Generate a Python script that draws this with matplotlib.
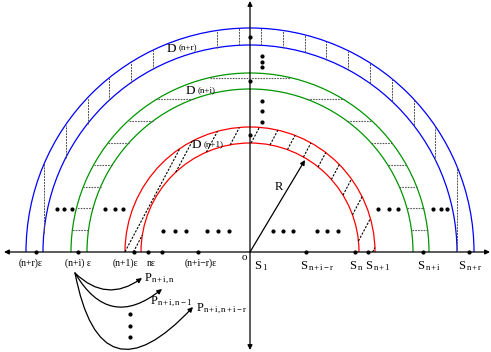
import numpy as np
import matplotlib
matplotlib.use("Agg")
import matplotlib.pyplot as plt
from matplotlib.patches import Arc, FancyArrowPatch

plt.rcParams['font.family'] = ['Liberation Serif', 'DejaVu Serif']
plt.rcParams['mathtext.fontset'] = 'custom'
plt.rcParams['mathtext.rm'] = 'Liberation Serif'
plt.rcParams['mathtext.it'] = 'Liberation Serif:italic'

# annular bands D(n+1), D(n+i), D(n+r)
band_names = ["(n+1)", "(n+i)", "(n+r)"]
band_inner = [109, 163, 207]
band_outer = [125, 179, 224]
band_colors = ["#ff0000", "#009600", "#0000ff"]
band_label_xy = [(-58, 107), (-64, 161), (-83, 203)]

# points on the negative axis: k*eps
eps_labels = ["(n+r)ε", "(n+i) ε", "(n+1)ε", "nε", "(n+i−r)ε"]
eps_label_x = [-219, -172, -125, -99, -49]
eps_dots = [-214, -172, -116, -102, -88, -52]

# points on the positive axis: S_k
s_labels = ["1", "n+i−r", "n", "n+1", "n+i", "n+r"]
s_label_x = [4, 50, 99, 115, 167, 208]
s_dots = [56, 105, 118, 173, 219]

# hatching of each band
blue_hatch_x = [-206.1, -184.3, -162.5, -140.7, -118.9, -97.1, -32.7, -10.9,
                10.9, 32.7, 54.5, 76.3, 98.1, 119.9, 141.7, 163.5, 185.3, 207.1]
green_hatch_h = [21.8, 43.6, 65.4, 87.2, 109.0, 130.8, 152.6, 174.4]
red_hatch_c = [-110.5, -103.0, -85.4, -67.8, -50.2, -32.6, -15.0, 2.6,
               20.2, 37.8, 55.4, 73.0, 90.6, 108.2]
red_hatch_angle = 62.0

# "..." groups
dots_row_y = [43, 21]
dots_row_x = [[-193, -186, -178, -145, -135, -127, 128, 139, 148, 183, 191, 197],
              [-87, -75, -64, -43, -32, -21, 23, 33, 43, 67, 77, 88]]
dots_col = [(12, 196), (12, 190), (12, 185), (12, 151), (12, 141), (12, 130),
            (0, 215), (0, 171), (0, 117),
            (-120, -62), (-120, -74), (-120, -85)]

# projections P_{n+i,j}
p_start = (-175, -21)
p_ends = [(-108, -26), (-88, -37), (-57, -55)]
p_rads = [0.42, 0.58, 0.98]
p_labels = [r"$\mathrm{P}_{\mathrm{n+i,n}}$", r"$\mathrm{P}_{\mathrm{n+i,n-1}}$",
            r"$\mathrm{P}_{\mathrm{n+i,n+i-r}}$"]
p_label_xy = [(-106, -27), (-100, -50), (-54, -57)]

fig = plt.figure(figsize=(4.91, 3.52), dpi=100)
ax = fig.add_axes([0, 0, 1, 1])
ax.set_xlim(-250, 241)
ax.set_ylim(-100, 252)
ax.set_aspect('equal')
ax.axis('off')

# semicircular bands
for rin, rout, col in zip(band_inner, band_outer, band_colors):
    for r in (rin, rout):
        ax.add_patch(Arc((0, 0), 2 * r, 2 * r, theta1=0, theta2=180,
                         color=col, lw=0.9))

# blue band: vertical hatch
rin, rout = band_inner[2], band_outer[2]
for x in blue_hatch_x:
    y0 = np.sqrt(max(rin ** 2 - x ** 2, 0))
    y1 = np.sqrt(rout ** 2 - x ** 2)
    ax.plot([x, x], [y0, y1], color='0.3', lw=0.7, ls=(0, (2, 1)))

# green band: horizontal hatch
rin, rout = band_inner[1], band_outer[1]
for h in green_hatch_h:
    xo = np.sqrt(rout ** 2 - h ** 2)
    if h < rin:
        xi = np.sqrt(rin ** 2 - h ** 2)
        for s in (-1, 1):
            ax.plot([s * xi, s * xo], [h, h], color='0.35', lw=0.8, ls=(0, (1.5, 1)))
    else:
        ax.plot([-xo, xo], [h, h], color='0.35', lw=0.8, ls=(0, (1.5, 1)))

# red band: slanted hatch, clipped to the band above the axis
rin, rout = band_inner[0], band_outer[0]
th = np.radians(red_hatch_angle)
nvec = np.array([np.sin(th), -np.cos(th)])
dvec = np.array([np.cos(th), np.sin(th)])
for c in red_hatch_c:
    if abs(c) >= rout:
        continue
    to = np.sqrt(rout ** 2 - c ** 2)
    if abs(c) < rin:
        ti = np.sqrt(rin ** 2 - c ** 2)
        spans = [(-to, -ti), (ti, to)]
    else:
        spans = [(-to, to)]
    tmin = c * np.cos(th) / np.sin(th)
    for a, b in spans:
        a = max(a, tmin)
        if b <= a:
            continue
        p0 = c * nvec + a * dvec
        p1 = c * nvec + b * dvec
        ax.plot([p0[0], p1[0]], [p0[1], p1[1]], color='k', lw=0.8, ls=(0, (2, 1.3)))

# axes with arrows
ax.add_patch(FancyArrowPatch((-246, 0), (240, 0), arrowstyle='<|-|>',
                             mutation_scale=7, color='k', lw=0.9,
                             shrinkA=0, shrinkB=0))
ax.add_patch(FancyArrowPatch((0, -98), (0, 251), arrowstyle='<|-|>',
                             mutation_scale=7, color='k', lw=0.9,
                             shrinkA=0, shrinkB=0))

# radius arrow
ax.add_patch(FancyArrowPatch((0, 0), (55, 92), arrowstyle='-|>',
                             mutation_scale=7, color='k', lw=0.9,
                             shrinkA=0, shrinkB=0))
ax.text(29, 65, "R", fontsize=9, ha='center', va='center')

# axis points and labels
ax.plot(eps_dots, [0] * len(eps_dots), 'ko', ms=2.0)
ax.plot(s_dots, [0] * len(s_dots), 'ko', ms=2.0)
for lab, x in zip(eps_labels, eps_label_x):
    ax.text(x, -11, lab, fontsize=7, ha='center', va='center')
for lab, x in zip(s_labels, s_label_x):
    ax.text(x, -17, r"$\mathrm{S}_{\,\mathrm{" + lab.replace("−", "-") + "}}$",
            fontsize=9, ha='left', va='baseline')
ax.text(-6, -6, "o", fontsize=8, ha='center', va='center')

# band labels
for name, (x, y) in zip(band_names, band_label_xy):
    ax.text(x, y, "D", fontsize=9.5, ha='left', va='center')
    ax.text(x + 12, y + 1, name, fontsize=6.5, ha='left', va='center')

# dot groups
for y, xs in zip(dots_row_y, dots_row_x):
    ax.plot(xs, [y] * len(xs), 'ko', ms=2.0)
ax.plot([p[0] for p in dots_col], [p[1] for p in dots_col], 'ko', ms=2.0)

# curved arrows to the projections
for end, rad, lab, (lx, ly) in zip(p_ends, p_rads, p_labels, p_label_xy):
    ax.add_patch(FancyArrowPatch(p_start, end, connectionstyle=f"arc3,rad={rad}",
                                 arrowstyle='-|>', mutation_scale=7, color='k',
                                 lw=0.9, shrinkA=0, shrinkB=0))
    ax.text(lx, ly, lab, fontsize=9, ha='left', va='center')

fig.savefig('out.png', dpi=100)
